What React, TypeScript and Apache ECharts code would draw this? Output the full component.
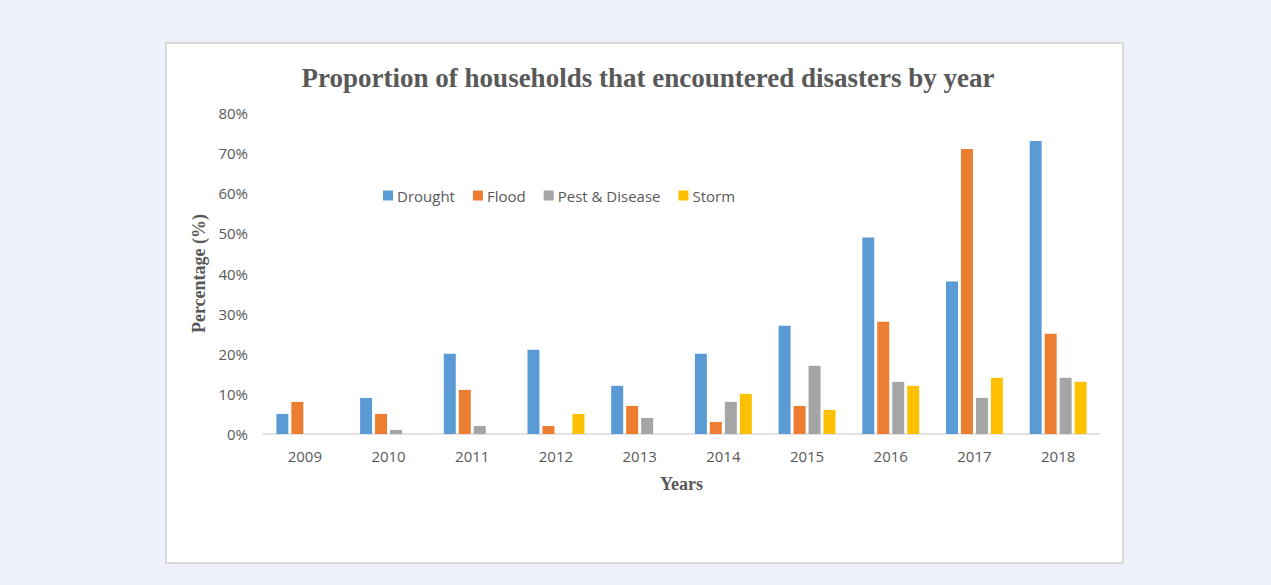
import React, { useEffect, useRef } from "react";
import * as echarts from "echarts";

const years = ["2009", "2010", "2011", "2012", "2013", "2014", "2015", "2016", "2017", "2018"];
const drought = [5, 9, 20, 21, 12, 20, 27, 49, 38, 73];
const flood = [8, 5, 11, 2, 7, 3, 7, 28, 71, 25];
const pestDisease = [0, 1, 2, 0, 4, 8, 17, 13, 9, 14];
const storm = [0, 0, 0, 5, 0, 10, 6, 12, 14, 13];

const seriesNames = ["Drought", "Flood", "Pest & Disease", "Storm"];
const seriesColors = ["#5B9BD5", "#ED7D31", "#A5A5A5", "#FFC000"];
const seriesData = [drought, flood, pestDisease, storm];

export default function App() {
  const ref = useRef<HTMLDivElement>(null);
  useEffect(() => {
    if (!ref.current) return;
    const chart = echarts.init(ref.current, undefined, { renderer: "svg" });
    chart.setOption({
      animation: false,
      title: {
        text: "Proportion of households that encountered disasters by year",
        left: 643,
        textAlign: "center",
        top: 59,
        textStyle: {
          fontFamily: "Liberation Serif",
          fontWeight: "bold",
          fontSize: 27,
          color: "#595959",
        },
      },
      legend: {
        left: 378,
        top: 183,
        itemWidth: 10,
        itemHeight: 10,
        itemGap: 18,
        icon: "rect",
        textStyle: { fontFamily: "Open Sans", fontSize: 15, color: "#595959", padding: [0, 0, 0, -1] },
        data: seriesNames,
      },
      grid: { left: 263, right: 171, top: 113, bottom: 151, containLabel: false },
      xAxis: {
        type: "category",
        data: years,
        name: "Years",
        nameLocation: "middle",
        nameGap: 41,
        nameTextStyle: {
          fontFamily: "Liberation Serif",
          fontWeight: "bold",
          fontSize: 18,
          color: "#595959",
        },
        axisLine: { lineStyle: { color: "#d9d9d9", width: 1.5 } },
        axisTick: { show: false },
        axisLabel: { fontFamily: "Open Sans", fontSize: 15, color: "#595959", margin: 14 },
      },
      yAxis: {
        type: "value",
        min: 0,
        max: 80,
        interval: 10,
        name: "Percentage (%)",
        nameLocation: "middle",
        nameGap: 55,
        nameTextStyle: {
          fontFamily: "Liberation Serif",
          fontWeight: "bold",
          fontSize: 18,
          color: "#595959",
        },
        axisLine: { show: false },
        axisTick: { show: false },
        splitLine: { show: false },
        axisLabel: {
          formatter: "{value}%",
          fontFamily: "Open Sans",
          fontSize: 15,
          color: "#595959",
          margin: 15,
        },
      },
      series: seriesNames.map((name, i) => ({
        name,
        type: "bar",
        data: seriesData[i],
        itemStyle: { color: seriesColors[i] },
        barGap: "25%",
        barCategoryGap: "32%",
      })),
    });
    return () => chart.dispose();
  }, []);

  return (
    <div style={{ position: "fixed", left: 0, top: 0, width: 1271, height: 585, background: "#EEF1F9" }}>
      <div
        style={{
          position: "absolute",
          left: 165,
          top: 42,
          width: 955,
          height: 518,
          background: "#fff",
          border: "2px solid #D9D9D9",
        }}
      />
      <div ref={ref} style={{ position: "absolute", left: 0, top: 0, width: 1271, height: 585 }} />
    </div>
  );
}
